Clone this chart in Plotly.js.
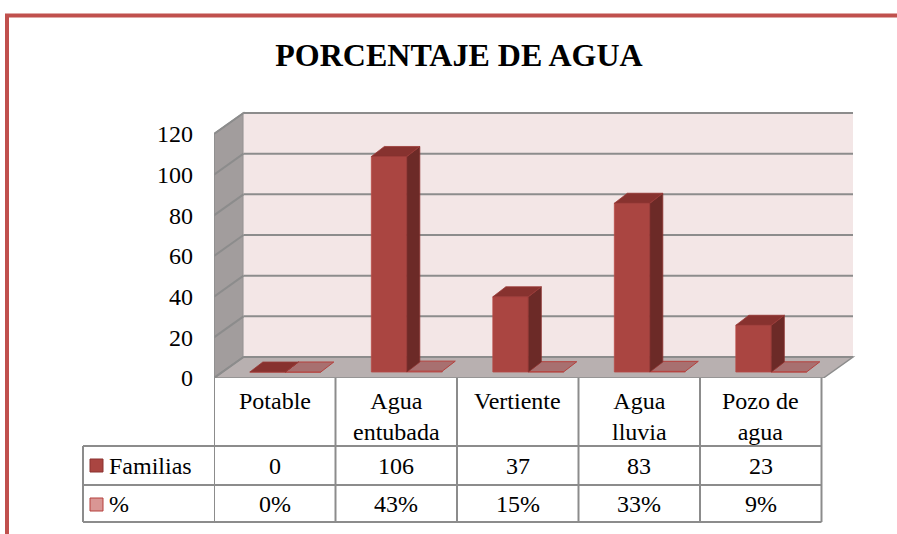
<!DOCTYPE html>
<html><head><meta charset="utf-8">
<script src="https://cdn.plot.ly/plotly-3.0.1.min.js"></script>
<style>html,body{margin:0;padding:0;background:#fff}#chart{width:897px;height:534px}</style>
</head><body><div id="chart"></div>
<script>
// ---- data ----
const categories = ['Potable', 'Agua<br>entubada', 'Vertiente', 'Agua<br>lluvia', 'Pozo de<br>agua'];
const familias = [0, 106, 37, 83, 23];
const porcentaje = [0, 0.43, 0.15, 0.33, 0.09];
const seriesNames = ['Familias', '%'];
const yTicks = [0, 20, 40, 60, 80, 100, 120];
const titleText = 'PORCENTAJE DE AGUA';

// ---- geometry ----
const W = 897, H = 534;
const L = 214, R = 858, T = 110, B = 378;
const catPx = 121.5;
const yScale = 244 / 120;
const xMin = -0.5, xMax = xMin + (R - L) / catPx;
const yMax = (B - T) / yScale;
const DX = 29.5 / catPx, DY = 21 / yScale;
const wallRight = xMin + (853 - L) / catPx;
const off1 = -0.205, bw = 0.292, base = 2.95;
const off2 = off1 + bw;
const bdx = 13 / catPx, bdy = 10 / yScale;
const xp = p => (p - L) / (R - L);
const yp = p => (B - p) / (B - T);

const idx = categories.map((_, i) => i);
const FONT = 'Liberation Serif';
const grey = '#8C8C8C';

const shapes = [];
shapes.push({type:'path', layer:'below', xref:'x', yref:'y',
  path:`M ${xMin},0 L ${xMin},120 L ${xMin+DX},${120+DY} L ${xMin+DX},${DY} Z`,
  fillcolor:'#A29D9D', line:{color:grey, width:1.5}});
shapes.push({type:'rect', layer:'below', xref:'x', yref:'y',
  x0:xMin+DX, x1:wallRight, y0:DY, y1:120+DY, fillcolor:'#F3E6E6', line:{width:0}});
shapes.push({type:'path', layer:'below', xref:'x', yref:'y',
  path:`M ${xMin},0 L ${xMin+DX},${DY} L ${wallRight},${DY} L ${wallRight-DX},0 Z`,
  fillcolor:'#B8B0B0', line:{color:grey, width:1.5}});
yTicks.forEach(v => {
  shapes.push({type:'line', layer:'below', xref:'x', yref:'y',
    x0:xMin+DX, x1:wallRight, y0:v+DY, y1:v+DY, line:{color:grey, width:2}});
  shapes.push({type:'line', layer:'below', xref:'x', yref:'y',
    x0:xMin, x1:xMin+DX, y0:v, y1:v+DY, line:{color:grey, width:2}});
});
for (let i = 0; i <= categories.length; i++) {
  shapes.push({type:'line', xref:'x', yref:'paper', x0:i-0.5, x1:i-0.5,
    y0:0, y1:yp(522), line:{color:grey, width:2}});
}
const tableRight = xp(L + (categories.length) * catPx);
[446, 485, 522].forEach(p => shapes.push({type:'line', xref:'paper', yref:'paper',
  x0:xp(83), x1:tableRight, y0:yp(p), y1:yp(p), line:{color:grey, width:2}}));
shapes.push({type:'line', xref:'paper', yref:'paper', x0:xp(83), x1:xp(83),
  y0:yp(446), y1:yp(522), line:{color:grey, width:2}});
shapes.push({type:'rect', xref:'paper', yref:'paper', x0:xp(90), x1:xp(103), y0:yp(472), y1:yp(459),
  fillcolor:'#AA4541', line:{color:'#8B3330', width:1}});
shapes.push({type:'rect', xref:'paper', yref:'paper', x0:xp(90), x1:xp(103), y0:yp(511), y1:yp(498),
  fillcolor:'#D99694', line:{color:'#B5403D', width:1}});
shapes.push({type:'line', xref:'paper', yref:'paper', x0:xp(5), x1:xp(897), y0:yp(15.5), y1:yp(15.5),
  line:{color:'#C0504D', width:4}});
shapes.push({type:'line', xref:'paper', yref:'paper', x0:xp(7), x1:xp(7), y0:yp(14), y1:yp(534),
  line:{color:'#C0504D', width:4}});

function faces(vals, off, kind) {
  const xs = [], ys = [];
  vals.forEach((v, i) => {
    const x0 = i + off, x1 = x0 + bw, top = base + v;
    if (kind === 'side') {
      xs.push(x1, x1 + bdx, x1 + bdx, x1, x1, null);
      ys.push(base, base + bdy, top + bdy, top, base, null);
    } else {
      xs.push(x0, x1, x1 + bdx, x0 + bdx, x0, null);
      ys.push(top, top, top + bdy, top + bdy, top, null);
    }
  });
  return {x: xs, y: ys};
}

const traces = [];
traces.push({type:'bar', name:seriesNames[1], x:idx, y:porcentaje, base:base,
  offset:off2, width:bw, marker:{color:'#D99694', line:{color:'#B5403D', width:0.8}},
  hoverinfo:'skip', showlegend:false});
const pTop = faces(porcentaje, off2, 'top');
traces.push({type:'scatter', mode:'lines', x:pTop.x, y:pTop.y, fill:'toself',
  fillcolor:'#A87070', line:{color:'#B5403D', width:1}, hoverinfo:'skip', showlegend:false});
traces.push({type:'bar', name:seriesNames[0], x:idx, y:familias, base:base,
  offset:off1, width:bw, marker:{color:'#AA4541', line:{color:'#B84A46', width:0.8}},
  hoverinfo:'skip', showlegend:false});
const fSide = faces(familias, off1, 'side');
traces.push({type:'scatter', mode:'lines', x:fSide.x, y:fSide.y, fill:'toself',
  fillcolor:'#6C2A27', line:{color:'#8B3330', width:0.8}, hoverinfo:'skip', showlegend:false});
const fTop = faces(familias, off1, 'top');
traces.push({type:'scatter', mode:'lines', x:fTop.x, y:fTop.y, fill:'toself',
  fillcolor:'#87322F', line:{color:'#9A3A37', width:0.8}, hoverinfo:'skip', showlegend:false});

const annotations = [];
const tf = {family:FONT, size:24, color:'#000'};
categories.forEach((c, i) => {
  annotations.push({xref:'x', yref:'paper', x:i, y:yp(386), yanchor:'top', xanchor:'center',
    text:c, showarrow:false, font:tf, align:'center'});
  annotations.push({xref:'x', yref:'paper', x:i, y:yp(465.5), yanchor:'middle', xanchor:'center',
    text:String(familias[i]), showarrow:false, font:tf});
  annotations.push({xref:'x', yref:'paper', x:i, y:yp(504), yanchor:'middle', xanchor:'center',
    text:Math.round(porcentaje[i]*100) + '%', showarrow:false, font:tf});
});
annotations.push({xref:'paper', yref:'paper', x:xp(107), y:yp(465.5), xanchor:'left', yanchor:'middle',
  text:seriesNames[0], showarrow:false, font:tf});
annotations.push({xref:'paper', yref:'paper', x:xp(107), y:yp(504), xanchor:'left', yanchor:'middle',
  text:seriesNames[1], showarrow:false, font:tf});

const layout = {
  width:W, height:H,
  margin:{l:L, r:W-R, t:T, b:H-B, pad:0},
  paper_bgcolor:'#fff', plot_bgcolor:'rgba(0,0,0,0)',
  font:{family:FONT},
  title:{text:'<b>' + titleText + '</b>', font:{family:FONT, size:32, color:'#000'},
    xref:'paper', x:(459 - L) / (R - L), xanchor:'center', yref:'container', y:1 - 55/H, yanchor:'middle'},
  xaxis:{range:[xMin, xMax], showgrid:false, zeroline:false, showticklabels:false,
    showline:false, ticks:'', fixedrange:true},
  yaxis:{range:[0, yMax], showgrid:false, zeroline:false, showline:false, ticks:'',
    tickvals:yTicks, ticktext:yTicks.map(String), tickfont:tf, ticklabelstandoff:20,
    fixedrange:true},
  barmode:'overlay', showlegend:false,
  shapes:shapes, annotations:annotations
};
Plotly.newPlot('chart', traces, layout, {displayModeBar:false, staticPlot:true});
</script></body></html>
